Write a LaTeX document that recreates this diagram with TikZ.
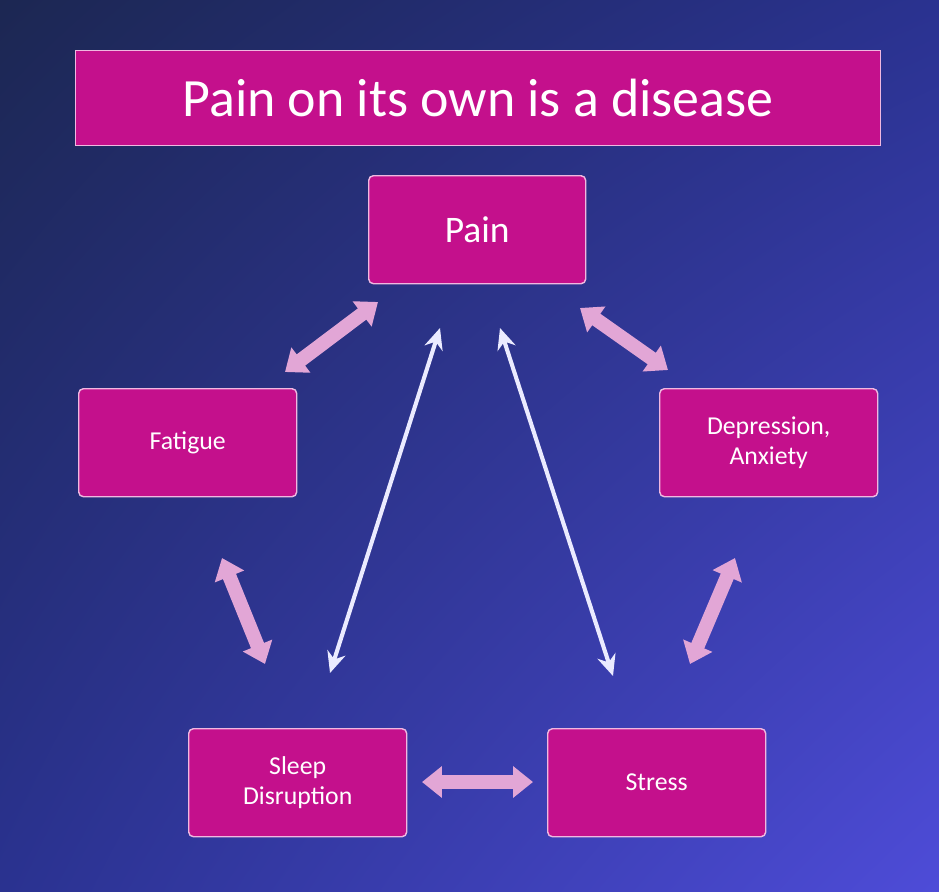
\documentclass[tikz,border=0pt]{standalone}
\usepackage{fontspec}
\setmainfont{Carlito}
\usetikzlibrary{arrows.meta,shadings}
\definecolor{mag}{HTML}{C4108C}
\definecolor{pk}{HTML}{E2A6D6}
\definecolor{bd}{HTML}{F0B8E0}
\definecolor{bgA}{HTML}{1C2752}
\definecolor{bgB}{HTML}{2A3290}
\definecolor{bgC}{HTML}{4E4CD8}
\begin{document}
\begin{tikzpicture}[x=0.03cm,y=-0.03cm,
  box/.style={draw=bd,line width=1.2pt,fill=mag,rounded corners=4pt,text=white,align=center,font=\fontsize{22}{26}\selectfont,inner sep=0pt},
  fat/.style={pk,line width=12pt,{Triangle[width=26pt,length=17pt]}-{Triangle[width=26pt,length=17pt]}},
  thin/.style={white!92!blue,line width=3.5pt,{Stealth[width=16pt,length=18pt]}-{Stealth[width=16pt,length=18pt]}}]
\shade[upper left=bgA,upper right=bgB,lower left=bgB,lower right=bgC] (0,0) rectangle (939,892);
\useasboundingbox (0,0) rectangle (939,892);
\node[draw=bd,line width=1pt,fill=mag,minimum width=805*0.03cm,minimum height=95*0.03cm,text=white,font=\fontsize{46}{50}\selectfont,anchor=north west,inner sep=0pt] (title) at (75,50) {Pain on its own is a disease};
\node[box,minimum width=217*0.03cm,minimum height=108*0.03cm,anchor=north west,font=\fontsize{32}{36}\selectfont] (pain) at (368,175) {Pain};
\node[box,minimum width=218*0.03cm,minimum height=108*0.03cm,anchor=north west] (fat) at (78,388) {Fatigue};
\node[box,minimum width=218*0.03cm,minimum height=108*0.03cm,anchor=north west] (dep) at (659,388) {Depression,\\Anxiety};
\node[box,minimum width=218*0.03cm,minimum height=108*0.03cm,anchor=north west] (sleep) at (188,728) {Sleep\\Disruption};
\node[box,minimum width=218*0.03cm,minimum height=108*0.03cm,anchor=north west] (stress) at (547,728) {Stress};
\coordinate (a1) at (378,302); \coordinate (a2) at (285,372);
\coordinate (b1) at (580,308); \coordinate (b2) at (668,370);
\coordinate (c1) at (222,558); \coordinate (c2) at (265,664);
\coordinate (d1) at (735,558); \coordinate (d2) at (690,664);
\coordinate (e1) at (422,782); \coordinate (e2) at (533,782);
\coordinate (f1) at (440,328); \coordinate (f2) at (330,673);
\coordinate (g1) at (500,328); \coordinate (g2) at (613,676);
\draw[fat] (a1) -- (a2);
\draw[fat] (b1) -- (b2);
\draw[fat] (c1) -- (c2);
\draw[fat] (d1) -- (d2);
\draw[fat] (e1) -- (e2);
\draw[thin] (f1) -- (f2);
\draw[thin] (g1) -- (g2);
\end{tikzpicture}
\end{document}
